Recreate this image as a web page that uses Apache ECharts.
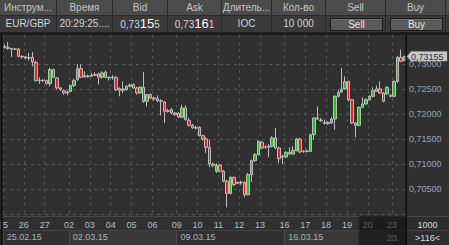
<!DOCTYPE html>
<html><head><meta charset="utf-8">
<script src="https://cdn.jsdelivr.net/npm/echarts@6/dist/echarts.min.js"></script>
<style>
html,body{margin:0;padding:0;background:#303030;overflow:hidden;}
#wrap{position:relative;width:449px;height:245px;font-family:"Liberation Sans",Arial,sans-serif;}
#chart{position:absolute;left:0;top:0;width:449px;height:245px;}
#hdr{position:absolute;left:0;top:0;width:449px;height:35px;background:#1c1c1c;z-index:5;}
.c{position:absolute;height:16px;line-height:16px;text-align:center;font-size:10px;overflow:hidden;white-space:nowrap;box-sizing:border-box;border-right:1px solid #2a2a2a;}
.h{top:0;background:#4b4b4b;color:#c4c4c4;border-bottom:1px solid #2a2a2a;}
.d{top:16px;background:#3a3a3a;color:#d4d4d4;}
.big{font-size:13px;color:#fff;}
.btn{position:absolute;left:4px;right:2px;top:2px;bottom:1px;background:#5b5b5b;border:1px solid #1c1c1c;box-shadow:inset 0 1px 0 #6e6e6e;line-height:11px;color:#e2e2e2;}
</style></head>
<body><div id="wrap"><div id="chart"></div><div id="hdr"></div></div>
<script>
// ---- data ----
const sessionDays = [
 ['25.02.15',0,20],['26.02.15',0,20],['27.02.15',0,20],['01.03.15',20,20],
 ['02.03.15',0,20],['03.03.15',0,20],['04.03.15',0,20],['05.03.15',0,20],['06.03.15',0,20],['08.03.15',20,20],
 ['09.03.15',0,20],['10.03.15',0,20],['11.03.15',0,20],['12.03.15',0,20],['13.03.15',0,20],['15.03.15',20,20],
 ['16.03.15',0,20],['17.03.15',0,20],['18.03.15',0,20],['19.03.15',0,20],['20.03.15',0,20],['22.03.15',20,20],
 ['23.03.15',0,12]];
const weekStarts = ['25.02.15','02.03.15','09.03.15','16.03.15','23.03.15'];
const categories = [];
sessionDays.forEach(([d,a,b])=>{for(let h=a;h<=b;h+=4){categories.push(d+' '+String(h).padStart(2,'0')+':00');}});

const opens = [.73354,.73340,.73314,.73300,.73307,.73160,.73147,.73127,.73140,.73034,
.72673,.72680,.72673,.72613,.72893,.72727,.72527,.72473,.72427,.72460,
.72573,.72693,.72913,.72753,.72767,.72760,.72780,.72807,.72740,.72840,
.72727,.72740,.72740,.72513,.72480,.72493,.72560,.72593,.72527,.72427,
.72540,.72260,.72393,.72327,.72313,.72273,.72247,.72060,.72093,.72027,
.72020,.71940,.72127,.71880,.71780,.71727,.71740,.71573,.71507,.71340,
.71007,.70860,.70980,.70860,.70659,.70419,.70739,.70619,.70639,.70639,
.70392,.70792,.71073,.71193,.71440,.71340,.71346,.71360,.71527,.71326,
.71146,.71146,.71239,.71206,.71273,.71506,.71253,.71259,.71259,.71593,
.71927,.71886,.71840,.71840,.71827,.71906,.72360,.72447,.72507,.72653,
.72293,.71827,.71780,.72140,.72207,.72293,.72360,.72507,.72507,.72427,
.72407,.72360,.72360,.72660,.73140,.73074];
const closes = [.73340,.73314,.73300,.73307,.73160,.73147,.73127,.73134,.73047,.72673,
.72680,.72673,.72613,.72893,.72740,.72527,.72493,.72427,.72447,.72573,
.72673,.72913,.72740,.72773,.72753,.72780,.72793,.72740,.72827,.72740,
.72740,.72733,.72493,.72480,.72507,.72560,.72587,.72527,.72427,.72540,
.72260,.72393,.72327,.72307,.72273,.72260,.72060,.72073,.72027,.71993,
.71947,.72127,.71893,.71780,.71727,.71733,.71573,.71507,.71340,.71007,
.70980,.70980,.70860,.70659,.70419,.70739,.70592,.70639,.70632,.70392,
.70792,.71073,.71193,.71460,.71326,.71346,.71360,.71527,.71326,.71113,
.71160,.71239,.71206,.71279,.71506,.71246,.71259,.71266,.71593,.71927,
.71906,.71873,.71820,.71813,.71906,.72360,.72440,.72507,.72653,.72293,
.71827,.71780,.72140,.72207,.72293,.72360,.72473,.72460,.72427,.72260,
.72540,.72373,.72660,.73140,.73060,.73155];
const highs = [.73394,.73447,.73327,.73327,.73320,.73180,.73167,.73227,.73247,.73074,
.72740,.72700,.72693,.72927,.72913,.72740,.72540,.72493,.72473,.72593,
.72713,.73007,.73000,.72860,.72793,.72827,.72840,.72833,.72860,.72873,
.72753,.72780,.72760,.72540,.72660,.72580,.72613,.72620,.72547,.72560,
.72847,.72407,.72420,.72353,.72380,.72300,.72260,.72113,.72127,.72047,
.72040,.72193,.72180,.71927,.71807,.71767,.71760,.71593,.71540,.71493,
.71033,.71020,.71007,.70887,.70692,.70759,.70752,.70659,.70672,.70659,
.70827,.71093,.71226,.71473,.71460,.71380,.71406,.71560,.71727,.71353,
.71193,.71259,.71339,.71359,.71527,.71527,.71286,.71299,.71606,.71940,
.72160,.71927,.71893,.71860,.71940,.72380,.72493,.72927,.72760,.72673,
.72307,.71847,.72160,.72340,.72313,.72380,.72540,.72573,.72660,.72447,
.72560,.72407,.72673,.73160,.73294,.73175];
const lows = [.73314,.73294,.73147,.73287,.73140,.73114,.73100,.73074,.72960,.72660,
.72607,.72647,.72593,.72560,.72727,.72493,.72473,.72393,.72380,.72447,
.72547,.72673,.72727,.72727,.72733,.72753,.72767,.72593,.72713,.72720,
.72673,.72693,.72460,.72360,.72427,.72473,.72540,.72513,.72393,.72407,
.72227,.72160,.72300,.72273,.72247,.71980,.71827,.72033,.72007,.71973,
.71927,.71927,.71873,.71753,.71713,.71700,.71560,.71473,.71227,.70940,
.70940,.70827,.70840,.70639,.70139,.70392,.70559,.70606,.70592,.70339,
.70379,.70646,.71046,.71180,.71306,.71313,.71139,.71340,.71306,.71027,
.71006,.71126,.71193,.71193,.71259,.71226,.71233,.71233,.71246,.71493,
.71886,.71846,.71793,.71793,.71806,.71693,.72340,.72427,.72493,.72260,
.71807,.71540,.71760,.72127,.72193,.72273,.72340,.72447,.72407,.72240,
.72393,.72340,.72340,.72627,.73047,.73060];
const priceTicks = {min:0.70, max:0.73, step:0.005};
const header = ['Инструм...','Время','Bid','Ask','Длитель...','Кол-во','Sell','Buy'];
const quote = {symbol:'EUR/GBP', time:'20:29:25....', bid:['0,73','15','5'], ask:['0,73','16','1'], tif:'IOC', qty:'10 000'};
const scaleText = '1000';

// ---- header (HTML) ----
const colX = [0,57,113,168,222,272,326,386,446];
const hdr = document.getElementById('hdr');
let html = '';
for (let i=0;i<header.length;i++){
  const w = colX[i+1]-colX[i];
  html += `<div class="c h" style="left:${colX[i]}px;width:${w}px">${header[i]}</div>`;
}
html += `<div class="c h" style="left:446px;width:3px;border-right:none"></div>`;
const dataCells = [
  quote.symbol, quote.time,
  `<span>${quote.bid[0]}</span><span class="big">${quote.bid[1]}</span><span>${quote.bid[2]}</span>`,
  `<span>${quote.ask[0]}</span><span class="big">${quote.ask[1]}</span><span>${quote.ask[2]}</span>`,
  quote.tif, quote.qty,
  `<div class="btn">Sell</div>`, `<div class="btn">Buy</div>`];
for (let i=0;i<dataCells.length;i++){
  const w = colX[i+1]-colX[i];
  html += `<div class="c d" style="left:${colX[i]}px;width:${w}px">${dataCells[i]}</div>`;
}
html += `<div class="c d" style="left:446px;width:3px;border-right:none"></div>`;
hdr.innerHTML = html;

// ---- chart ----
const FONT = "'Liberation Sans', Arial, sans-serif";
const n = categories.length;
const isDayStart = v => !!v && v.slice(9) === '00:00';
const isWeekStart = v => !!v && v.slice(9) === '00:00' && weekStarts.includes(v.slice(0,8));
const lastWeekIdx = categories.map((v,i)=>isWeekStart(v)?i:-1).filter(i=>i>=0).pop();
const fmtPrice = v => v.toFixed(5).replace('.', ',');

const chart = echarts.init(document.getElementById('chart'), null, {renderer:'svg', width:449, height:245});
const option = {
  backgroundColor:'#303030',
  animation:false,
  textStyle:{fontFamily:FONT},
  grid:[
    {left:3, right:43, top:64.3, bottom:30.7, containLabel:false, outerBoundsMode:'none'},
    {left:3, right:43, top:35, bottom:29, containLabel:false, outerBoundsMode:'none'}
  ],
  xAxis:[
    {type:'category', gridIndex:0, data:categories, boundaryGap:true, show:false},
    {type:'category', gridIndex:1, data:categories, boundaryGap:true, position:'bottom',
      axisLine:{show:true, lineStyle:{color:'#474747', width:1}},
      axisTick:{show:false},
      axisLabel:{show:true, interval:(i,v)=>isDayStart(v), formatter:v=>v.slice(0,2),
        color:'#b6bec9', fontSize:9, fontFamily:FONT, margin:4, padding:[0,3.5,0,0], hideOverlap:false},
      splitLine:{show:true, interval:(i,v)=>isDayStart(v), lineStyle:{color:'#575757', type:[3,4], width:1}}},
    {type:'category', gridIndex:1, data:categories, boundaryGap:true, position:'bottom', offset:14,
      axisLine:{show:true, lineStyle:{color:'#424242', width:1}},
      axisTick:{show:true, interval:(i,v)=>isWeekStart(v), length:15, inside:false, lineStyle:{color:'#4a4a4a'}},
      axisLabel:{show:true, interval:(i,v)=>isWeekStart(v) && i!==lastWeekIdx, formatter:v=>v.slice(0,8), align:'left',
        color:'#a9b0ba', fontSize:9, fontFamily:FONT, margin:2, padding:[0,0,0,2], hideOverlap:false},
      splitLine:{show:false}}
  ],
  yAxis:[
    {type:'value', gridIndex:0, position:'right', min:priceTicks.min, max:priceTicks.max, interval:priceTicks.step,
      axisLine:{show:false}, axisTick:{show:false},
      axisLabel:{show:true, showMinLabel:false, formatter:fmtPrice, color:'#8fa5c3', fontSize:9, fontFamily:FONT, margin:3, align:'left'},
      splitLine:{show:true, lineStyle:{color:'#575757', type:[3,4], width:1}}},
    {type:'value', gridIndex:1, min:0, max:1, show:false, splitLine:{show:false}}
  ],
  series:[{
    type:'candlestick', xAxisIndex:0, yAxisIndex:0, clip:false, barWidth:3,
    data:categories.map((c,i)=>[opens[i], closes[i], lows[i], highs[i]]),
    itemStyle:{color:'#22c322', color0:'#e52424', borderColor:'#bdbdbd', borderColor0:'#bdbdbd', borderWidth:1},
    emphasis:{disabled:true}
  }]
};
chart.setOption(option);

// ---- decorations computed from the axes ----
const cx = i => chart.convertToPixel({xAxisIndex:1}, i);
const bw = cx(1) - cx(0);
const leftEdge = i => cx(0) - bw/2 + bw*i;
const plotL = leftEdge(0), plotR = leftEdge(n);
const yAxisTop = 35, axisY = 245-29;
const wkIdx = categories.map((v,i)=>isWeekStart(v)?i:-1).filter(i=>i>=0).concat([n]);
const g = [];
for (let k=0;k<wkIdx.length-1;k++){
  if (k%2===1){
    g.push({type:'rect', z:-5, shape:{x:leftEdge(wkIdx[k]), y:axisY+14.5, width:leftEdge(wkIdx[k+1])-leftEdge(wkIdx[k]), height:15},
      style:{fill:'#383838'}});
  }
}
// last week label, cut at the right panel
const lwX = leftEdge(lastWeekIdx) - 5;
g.push({type:'text', z:50, style:{x:lwX, y:axisY+21.5, text:categories[lastWeekIdx].slice(0,8), width:plotR-lwX, overflow:'truncate', ellipsis:'',
  fill:'#a9b0ba', font:'9px '+FONT, align:'left', verticalAlign:'middle'}});
// scroll marker overlay
g.push({type:'rect', z:100, shape:{x:plotR-47, y:axisY+0.5, width:47, height:29}, style:{fill:'rgba(12,12,12,0.55)', stroke:'#262626', lineWidth:1}});
// right panel bottom
g.push({type:'rect', z:101, shape:{x:plotR, y:axisY, width:449-plotR, height:29}, style:{fill:'#2d2d2d'}});
g.push({type:'line', z:101, shape:{x1:plotR, y1:axisY+14.5, x2:449, y2:axisY+14.5}, style:{stroke:'#424242', lineWidth:1}});
g.push({type:'line', z:101, shape:{x1:plotR, y1:axisY+0.5, x2:449, y2:axisY+0.5}, style:{stroke:'#474747', lineWidth:1}});
g.push({type:'text', z:102, style:{x:(plotR+449)/2, y:axisY+8.5, text:scaleText, fill:'#dcdcdc', font:'9px '+FONT, align:'center', verticalAlign:'middle'}});
g.push({type:'text', z:102, style:{x:(plotR+449)/2, y:axisY+21.5, text:'>'+n+'<', fill:'#dcdcdc', font:'9px '+FONT, align:'center', verticalAlign:'middle'}});
// black borders
g.push({type:'rect', z:103, shape:{x:plotR-0.6, y:yAxisTop, width:1.6, height:245-yAxisTop}, style:{fill:'#0e0e0e'}});
g.push({type:'rect', z:103, shape:{x:0.6, y:yAxisTop, width:2.2, height:245-yAxisTop}, style:{fill:'#111111'}});
// last price tag
const last = closes[n-1];
const py = chart.convertToPixel({yAxisIndex:0}, last);
g.push({type:'polygon', z:104, shape:{points:[[plotR+1,py],[plotR+5,py-5],[447,py-5],[447,py+4.5],[plotR+5,py+4.5]]},
  style:{fill:'#c9c9c9', stroke:'#9a9a9a', lineWidth:0.5}});
g.push({type:'text', z:105, style:{x:plotR+5, y:py, text:fmtPrice(last), fill:'#2b3441', font:'9px '+FONT, align:'left', verticalAlign:'middle'}});
chart.setOption({graphic:g});
</script>
</body></html>
